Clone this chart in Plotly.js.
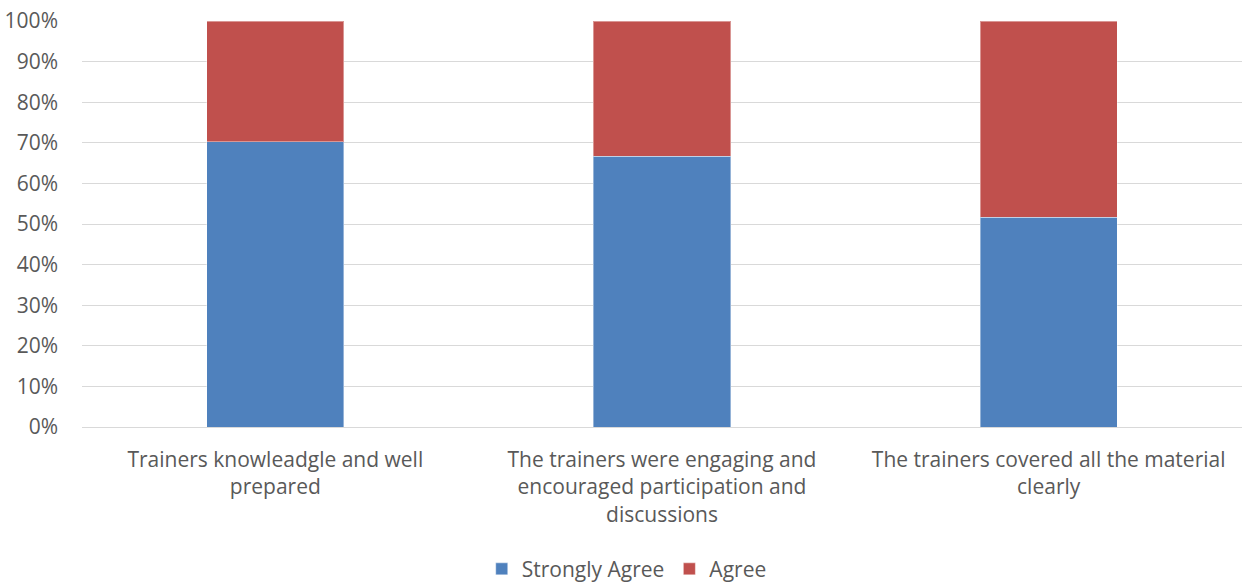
<!DOCTYPE html>
<html>
<head>
<meta charset="utf-8">
<script src="https://cdn.plot.ly/plotly-3.0.1.min.js"></script>
<style>html,body{margin:0;padding:0;background:#fff;}#chart{width:1246px;height:582px;}</style>
</head>
<body>
<div id="chart"></div>
<script>
var categories = [
  "Trainers knowleadgle and well<br>prepared",
  "The trainers were engaging and<br>encouraged participation and<br>discussions",
  "The trainers covered all the material<br>clearly"
];
var stronglyAgree = [0.703, 0.667, 0.517];
var agree = [0.297, 0.333, 0.483];

var font = {family: "Open Sans, Liberation Sans, sans-serif", size: 21, color: "#595959"};

var traces = [
  {type: "bar", name: "Strongly Agree", x: categories, y: stronglyAgree,
   marker: {color: "#4F81BD", line: {color: "rgba(255,255,255,0.4)", width: 1}}},
  {type: "bar", name: "Agree", x: categories, y: agree,
   marker: {color: "#C0504D", line: {color: "rgba(255,255,255,0.4)", width: 1}}}
];

var layout = {
  width: 1246, height: 582,
  barmode: "stack",
  bargap: 0.645,
  margin: {l: 82, r: 4, t: 21, b: 155},
  paper_bgcolor: "#fff", plot_bgcolor: "#fff",
  font: font,
  showlegend: true,
  legend: {orientation: "h", x: 0.503, xref: "container", xanchor: "center",
           yref: "container", y: 0.022, yanchor: "middle",
           font: font, traceorder: "normal", itemwidth: 30},
  xaxis: {showgrid: false, zeroline: false, showline: false, ticks: "",
          tickfont: font, automargin: false, ticklabelstandoff: 18},
  yaxis: {range: [0, 1], tickvals: [0,0.1,0.2,0.3,0.4,0.5,0.6,0.7,0.8,0.9,1],
          tickformat: ".0%", showgrid: true, gridcolor: "#D9D9D9", gridwidth: 1,
          zeroline: true, zerolinecolor: "#D9D9D9", zerolinewidth: 1,
          showline: false, ticks: "", ticklabelstandoff: 23, tickfont: font, automargin: false}
};

Plotly.newPlot("chart", traces, layout, {displayModeBar: false, staticPlot: true});
</script>
</body>
</html>
